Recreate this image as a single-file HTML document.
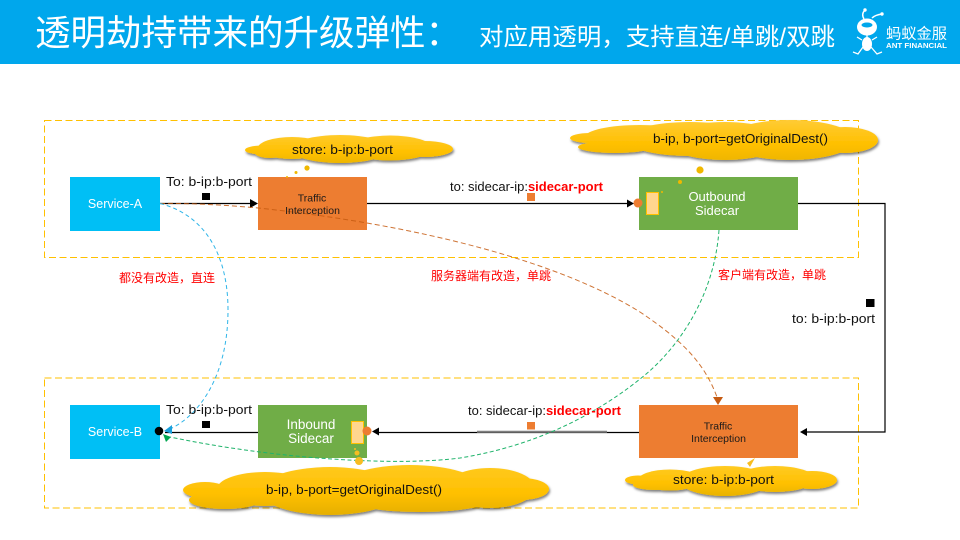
<!DOCTYPE html>
<html><head><meta charset="utf-8"><style>
html,body{margin:0;padding:0;background:#fff;width:960px;height:540px;overflow:hidden}
svg{display:block}
text{font-family:"Liberation Sans","Noto Sans CJK SC",sans-serif}
</style></head><body>
<svg width="960" height="540" viewBox="0 0 960 540" xmlns="http://www.w3.org/2000/svg">
<defs>
<linearGradient id="g1" gradientUnits="userSpaceOnUse" x1="0" y1="134" x2="0" y2="164"><stop offset="0" stop-color="#ffcb2e"/><stop offset=".6" stop-color="#ffc000"/><stop offset="1" stop-color="#ecb400"/></linearGradient>
<linearGradient id="g2" gradientUnits="userSpaceOnUse" x1="0" y1="120" x2="0" y2="160"><stop offset="0" stop-color="#ffcb35"/><stop offset=".6" stop-color="#ffc000"/><stop offset="1" stop-color="#f0b600"/></linearGradient>
<linearGradient id="g3" gradientUnits="userSpaceOnUse" x1="0" y1="466" x2="0" y2="516"><stop offset="0" stop-color="#ffc91e"/><stop offset=".55" stop-color="#ffc000"/><stop offset="1" stop-color="#e4ae00"/></linearGradient>
<linearGradient id="g4" gradientUnits="userSpaceOnUse" x1="0" y1="465" x2="0" y2="496"><stop offset="0" stop-color="#ffcb25"/><stop offset=".6" stop-color="#ffc000"/><stop offset="1" stop-color="#e8b200"/></linearGradient>
<filter id="sh" x="-10%" y="-20%" width="120%" height="150%"><feDropShadow dx="1" dy="2" stdDeviation="1.2" flood-color="#000" flood-opacity=".5"/></filter>
</defs>

<rect x="0" y="0" width="960" height="64" fill="#00a7ec"/>
<text x="35" y="45" font-size="35.5" fill="#fff">透明劫持带来的升级弹性：</text>
<text x="479" y="45" font-size="24" fill="#fff" textLength="356" lengthAdjust="spacingAndGlyphs">对应用透明，支持直连/单跳/双跳</text>

<!-- ant logo -->
<g stroke="#fff" fill="none">
<path d="M864 19 Q861 14 865 10 M872 18 Q875 15 882 14" stroke-width="1.5"/>
<circle cx="865" cy="10" r="1.7" fill="#fff" stroke="none"/><circle cx="882" cy="14" r="1.7" fill="#fff" stroke="none"/>
<ellipse cx="867" cy="27" rx="10" ry="8.500" fill="#fff" stroke="none"/>
<ellipse cx="867" cy="25" rx="5.500" ry="2.500" fill="#00a7ec" stroke="none"/>
<ellipse cx="867" cy="44" rx="5" ry="7" fill="#fff" stroke="none"/>
<path d="M867 35 V39 M857 37 L862 40 M877 37 L872 40 M863 47 L858 54 L853 52 M871 47 L877 54 L882 52" stroke-width="1.300"/>
</g>
<text x="886" y="38.500" font-size="15" fill="#fff" textLength="61" lengthAdjust="spacingAndGlyphs">蚂蚁金服</text>
<text x="886" y="48" font-size="7" fill="#fff" font-weight="bold" textLength="61" lengthAdjust="spacingAndGlyphs">ANT FINANCIAL</text>

<!-- dashed group boxes -->
<rect x="44.5" y="120.5" width="814" height="137" fill="none" stroke="#ffc000" stroke-width="1" stroke-dasharray="7 3.5"/>
<rect x="44.5" y="378" width="814" height="130" fill="none" stroke="#ffc000" stroke-width="1" stroke-dasharray="7 3.5"/>

<!-- node boxes -->
<rect x="70" y="177" width="90" height="54" fill="#00bff5"/>
<rect x="258" y="177" width="109" height="53" fill="#ed7d31"/>
<rect x="639" y="177" width="159" height="53" fill="#70ad47"/>
<rect x="70" y="405" width="90" height="54" fill="#00bff5"/>
<rect x="258" y="405" width="109" height="53" fill="#70ad47"/>
<rect x="639" y="405" width="159" height="53" fill="#ed7d31"/>

<!-- solid connectors -->
<g fill="none" stroke="#000" stroke-width="1.2">
<path d="M160 203.5 H253"/>
<path d="M367 203.5 H628"/>
<path d="M798 203.5 H885 V432 H806"/>
<path d="M639 432.5 H378"/>
<path d="M258 432.5 H165"/>
</g>
<path d="M477 431.8 H607" stroke="#7f7f7f" stroke-width="2" fill="none"/>
<g fill="#000">
<path d="M258 203.5 L250 199 V208 Z"/>
<path d="M634 203.5 L627 199.5 V207.5 Z"/>
<path d="M800 432 L807 428 V436 Z"/>
<path d="M372 431.5 L379 427.5 V435.5 Z"/>
</g>

<!-- dashed curves -->
<path d="M160 203.5 C190 203 225 205 258 208 C420 225 560 262 640 312 C685 342 705 365 717 397" fill="none" stroke="#c55a11" stroke-width="1" stroke-dasharray="5 3" opacity=".85"/>
<path d="M713 397 L723 397 L718 405 Z" fill="#c55a11"/>
<path d="M160 203.5 C205 215 228 255 228 310 C228 375 200 415 170 429" fill="none" stroke="#2fb5e8" stroke-width="1" stroke-dasharray="4 3"/>
<path d="M164 431 L172 425 L172 434 Z" fill="#1a9fdc"/>
<path d="M719 230 C714 300 675 350 645 375 C600 412 540 445 460 458 C400 466 280 460 170 437" fill="none" stroke="#1fb36b" stroke-width="1" stroke-dasharray="4 2.5"/>
<path d="M163 434 L171 437 L166 442 Z" fill="#00a650"/>

<!-- clouds -->
<g fill="url(#g1)" filter="url(#sh)">
<ellipse cx="262" cy="150" rx="17" ry="4.500"/><ellipse cx="292" cy="148" rx="34" ry="11"/><ellipse cx="270" cy="153" rx="15" ry="5"/><ellipse cx="340" cy="149" rx="50" ry="14"/><ellipse cx="390" cy="148" rx="42" ry="12.500"/><ellipse cx="425" cy="149" rx="28" ry="8"/>
</g>
<g fill="url(#g2)" filter="url(#sh)">
<ellipse cx="590" cy="138" rx="20" ry="5"/><ellipse cx="640" cy="137" rx="55" ry="12"/><ellipse cx="615" cy="147" rx="37" ry="6"/><ellipse cx="690" cy="139" rx="65" ry="17"/><ellipse cx="725" cy="141" rx="60" ry="19"/><ellipse cx="790" cy="140" rx="65" ry="20"/><ellipse cx="845" cy="140" rx="33" ry="13"/>
</g>
<g fill="url(#g3)" filter="url(#sh)">
<ellipse cx="205" cy="490" rx="22" ry="8"/><ellipse cx="225" cy="500" rx="36" ry="9"/><ellipse cx="265" cy="489" rx="48" ry="17"/><ellipse cx="330" cy="491" rx="70" ry="24"/><ellipse cx="410" cy="488" rx="72" ry="23"/><ellipse cx="490" cy="488" rx="45" ry="20"/><ellipse cx="522" cy="489" rx="27" ry="11"/><ellipse cx="420" cy="500" rx="70" ry="12"/>
</g>
<g fill="url(#g4)" filter="url(#sh)">
<ellipse cx="638" cy="480" rx="13" ry="4.500"/><ellipse cx="670" cy="480" rx="32" ry="10.500"/><ellipse cx="655" cy="485" rx="22" ry="5"/><ellipse cx="725" cy="481" rx="45" ry="15"/><ellipse cx="775" cy="479" rx="40" ry="13"/><ellipse cx="812" cy="480" rx="25" ry="9"/>
</g>

<!-- thought dots -->
<g fill="#f0b800">
<circle cx="307" cy="168" r="2.600"/><circle cx="296" cy="172.500" r="1.500"/><circle cx="287" cy="177" r="1"/>
<circle cx="700" cy="170" r="3.600"/><circle cx="680" cy="182" r="2"/><circle cx="662" cy="192" r="1"/>
</g>
<circle cx="359" cy="461" r="4" fill="#f7bd21"/><circle cx="357" cy="453" r="2.500" fill="#f7bd21"/><circle cx="355" cy="449" r="1" fill="#f7bd21"/>
<path d="M747 463 L755 458 L750 467 Z" fill="#f7bd21"/>

<!-- small sidecar ports -->
<rect x="646.500" y="192.500" width="12" height="22" fill="#ffd68f" stroke="#ffc000"/>
<circle cx="638" cy="203" r="4.500" fill="#ed7d31"/>
<rect x="351.500" y="421.500" width="12" height="22" fill="#ffd68f" stroke="#ffc000"/>
<circle cx="367" cy="431" r="4.500" fill="#ed7d31"/>
<circle cx="159" cy="431" r="4.300" fill="#000"/>

<!-- markers -->
<rect x="202" y="193" width="8" height="7" fill="#000"/>
<rect x="527" y="193" width="8" height="8" fill="#ed7d31"/>
<rect x="866" y="299" width="8.500" height="8" fill="#000"/>
<rect x="202" y="421" width="8" height="7" fill="#000"/>
<rect x="527" y="422" width="8" height="7.500" fill="#ed7d31"/>

<!-- node labels -->
<g text-anchor="middle" fill="#fff" font-size="12.500">
<text x="115" y="208">Service-A</text>
<text x="115" y="436">Service-B</text>
<text x="717" y="201" font-size="13">Outbound</text>
<text x="717" y="215" font-size="13">Sidecar</text>
<text x="311" y="429" font-size="13.500">Inbound</text>
<text x="311" y="443" font-size="13.500">Sidecar</text>
</g>
<g text-anchor="middle" fill="#1a1a1a" font-size="10.500">
<text x="312" y="201.500">Traffic</text>
<text x="312.500" y="214">Interception</text>
<text x="718" y="429.500">Traffic</text>
<text x="718.500" y="442">Interception</text>
</g>

<!-- edge labels -->
<g fill="#111" font-size="13" lengthAdjust="spacingAndGlyphs">
<text x="166" y="186" textLength="86" lengthAdjust="spacingAndGlyphs">To: b-ip:b-port</text>
<text x="166" y="414" textLength="86" lengthAdjust="spacingAndGlyphs">To: b-ip:b-port</text>
<text x="792" y="323" textLength="83" lengthAdjust="spacingAndGlyphs">to: b-ip:b-port</text>
<text x="450" y="191" textLength="153" lengthAdjust="spacingAndGlyphs">to: sidecar-ip:<tspan fill="#ff0000" font-weight="bold">sidecar-port</tspan></text>
<text x="468" y="415" textLength="153" lengthAdjust="spacingAndGlyphs">to: sidecar-ip:<tspan fill="#ff0000" font-weight="bold">sidecar-port</tspan></text>
<text x="292" y="154" textLength="101" lengthAdjust="spacingAndGlyphs">store: b-ip:b-port</text>
<text x="653" y="143" textLength="175" lengthAdjust="spacingAndGlyphs">b-ip, b-port=getOriginalDest()</text>
<text x="266" y="494" textLength="176" lengthAdjust="spacingAndGlyphs">b-ip, b-port=getOriginalDest()</text>
<text x="673" y="484" textLength="101" lengthAdjust="spacingAndGlyphs">store: b-ip:b-port</text>
</g>
<g fill="#ff0000" font-size="12">
<text x="119" y="282">都没有改造，直连</text>
<text x="431" y="280">服务器端有改造，单跳</text>
<text x="718" y="279">客户端有改造，单跳</text>
</g>
</svg>
</body></html>
